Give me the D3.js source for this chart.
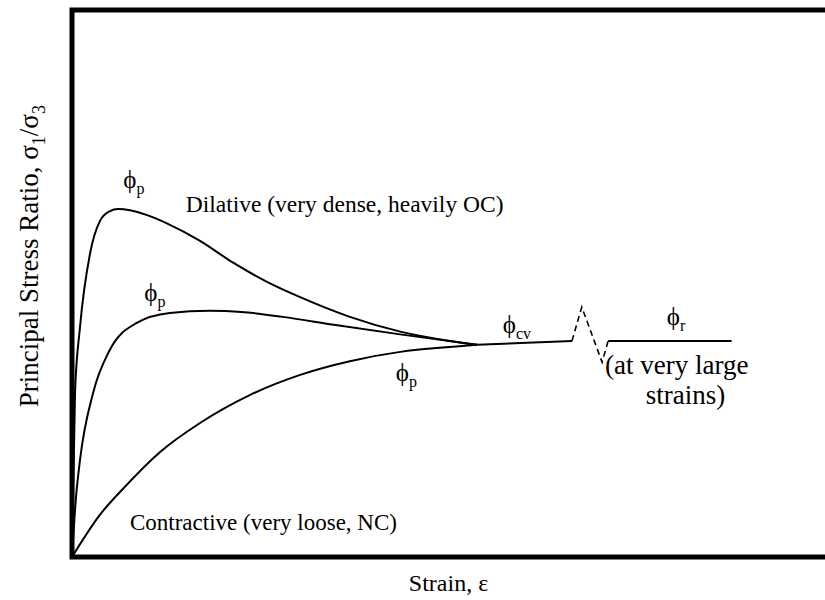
<!DOCTYPE html>
<html>
<head>
<meta charset="utf-8">
<script src="https://cdn.jsdelivr.net/npm/d3@7"></script>
<style>
	body { margin: 0; background: #fff; }
	svg { display: block; }
	text { font-family: "Liberation Serif", "Times New Roman", serif; fill: #000; }
</style>
</head>
<body>
<svg id="canvas" width="825" height="600"></svg>
<script>
// strain (arbitrary units) vs stress ratio (arbitrary units)
const dilativeStrain = [0, 0.4, 1.06, 2.4, 3.7, 5.0, 6.1, 7.7, 10.0, 12.6, 17.0, 21.4, 25.9, 30.3, 36.9, 43.6, 50.2, 53.8];
const dilativeRatio  = [0, 30.0, 42.0, 55.5, 61.4, 63.2, 63.6, 63.4, 62.5, 61.0, 57.8, 53.8, 50.3, 47.5, 43.9, 41.2, 39.5, 38.8];

const mediumStrain = [0, 0.5, 1.06, 2.8, 5.0, 8.6, 13.0, 18.3, 22.5, 28.0, 35.0, 43.6, 53.8];
const mediumRatio  = [0, 10.4, 17.7, 30.0, 37.8, 42.8, 44.6, 45.0, 44.8, 43.9, 42.4, 40.7, 38.8];

const contractiveStrain = [0, 3.7, 7.0, 11.7, 17.0, 23.6, 30.3, 36.9, 43.6, 50.2, 53.8];
const contractiveRatio  = [0, 7.7, 12.8, 19.2, 24.5, 29.6, 33.3, 35.8, 37.5, 38.4, 38.8];

const criticalStrain = [53.8, 66.4];
const criticalRatio  = [38.8, 39.5];

const breakStrain = [66.4, 67.7, 70.4, 71.2];
const breakRatio  = [39.5, 45.7, 35.6, 39.5];

const residualStrain = [71.2, 87.6];
const residualRatio  = [39.5, 39.5];

// label anchors in the same units
const phiLabels = [
	{ sym: "ϕ", sub: "p",  strain: 6.8,  ratio: 67.5 },
	{ sym: "ϕ", sub: "p",  strain: 9.6,  ratio: 46.8 },
	{ sym: "ϕ", sub: "p",  strain: 43.0, ratio: 32.2 },
	{ sym: "ϕ", sub: "cv", strain: 57.2, ratio: 40.9 },
	{ sym: "ϕ", sub: "r",  strain: 79.0, ratio: 42.4 }
];
const textLabels = [
	{ text: "Dilative (very dense, heavily OC)", strain: 15.1, ratio: 63.0, size: 23.5 },
	{ text: "Contractive (very loose, NC)", strain: 7.7, ratio: 4.9, size: 23 },
	{ text: "(at very large", strain: 70.8, ratio: 33.5, size: 27 },
	{ text: "strains)", strain: 76.2, ratio: 28.0, size: 27 }
];

const xTitle = "Strain, ε";

let canvas = d3.select("#canvas");

let xScale = d3.scaleLinear().domain([0, 100]).range([72, 825]);
let yScale = d3.scaleLinear().domain([0, 100]).range([557, 10]);

let zip = (xs, ys) => xs.map((x, i) => [x, ys[i]]);

let line = d3.line()
	.x((d) => xScale(d[0]))
	.y((d) => yScale(d[1]))
	.curve(d3.curveMonotoneX);

let straight = d3.line()
	.x((d) => xScale(d[0]))
	.y((d) => yScale(d[1]));

let drawCurves = () => {
	let curves = [
		zip(dilativeStrain, dilativeRatio),
		zip(mediumStrain, mediumRatio),
		zip(contractiveStrain, contractiveRatio)
	];
	canvas.selectAll("path.curve")
		.data(curves)
		.enter()
		.append("path")
		.attr("class", "curve")
		.attr("d", line)
		.attr("fill", "none")
		.attr("stroke", "#000")
		.attr("stroke-width", 2);

	canvas.append("path")
		.attr("d", straight(zip(criticalStrain, criticalRatio)))
		.attr("fill", "none")
		.attr("stroke", "#000")
		.attr("stroke-width", 2);

	canvas.append("path")
		.attr("d", straight(zip(breakStrain, breakRatio)))
		.attr("fill", "none")
		.attr("stroke", "#000")
		.attr("stroke-width", 1.6)
		.attr("stroke-dasharray", "6,4");

	canvas.append("path")
		.attr("d", straight(zip(residualStrain, residualRatio)))
		.attr("fill", "none")
		.attr("stroke", "#000")
		.attr("stroke-width", 2);
};

let drawAxes = () => {
	// open frame: left, bottom and top edges
	canvas.append("path")
		.attr("d", `M${xScale(100)},${yScale(0)} H${xScale(0)} V${yScale(100)} H${xScale(100)}`)
		.attr("fill", "none")
		.attr("stroke", "#000")
		.attr("stroke-width", 5);

	canvas.append("text")
		.attr("x", xScale(50))
		.attr("y", 591)
		.attr("text-anchor", "middle")
		.attr("font-size", 24)
		.text(xTitle);

	let yTitle = canvas.append("text")
		.attr("transform", `translate(38,${yScale(55)}) rotate(-90)`)
		.attr("text-anchor", "middle")
		.attr("font-size", 27);
	yTitle.append("tspan").text("Principal Stress Ratio, σ");
	yTitle.append("tspan").attr("font-size", 18).attr("dy", 7).text("1");
	yTitle.append("tspan").attr("dy", -7).text("/σ");
	yTitle.append("tspan").attr("font-size", 18).attr("dy", 7).text("3");
};

let drawLabels = () => {
	canvas.selectAll("text.note")
		.data(textLabels)
		.enter()
		.append("text")
		.attr("class", "note")
		.attr("x", (d) => xScale(d.strain))
		.attr("y", (d) => yScale(d.ratio))
		.attr("font-size", (d) => d.size)
		.text((d) => d.text);

	let phi = canvas.selectAll("text.phi")
		.data(phiLabels)
		.enter()
		.append("text")
		.attr("class", "phi")
		.attr("x", (d) => xScale(d.strain))
		.attr("y", (d) => yScale(d.ratio))
		.attr("font-size", 25);
	phi.append("tspan").text((d) => d.sym);
	phi.append("tspan")
		.attr("font-size", 16)
		.attr("dy", 6)
		.text((d) => d.sub);
};

drawCurves();
drawAxes();
drawLabels();
</script>
</body>
</html>
